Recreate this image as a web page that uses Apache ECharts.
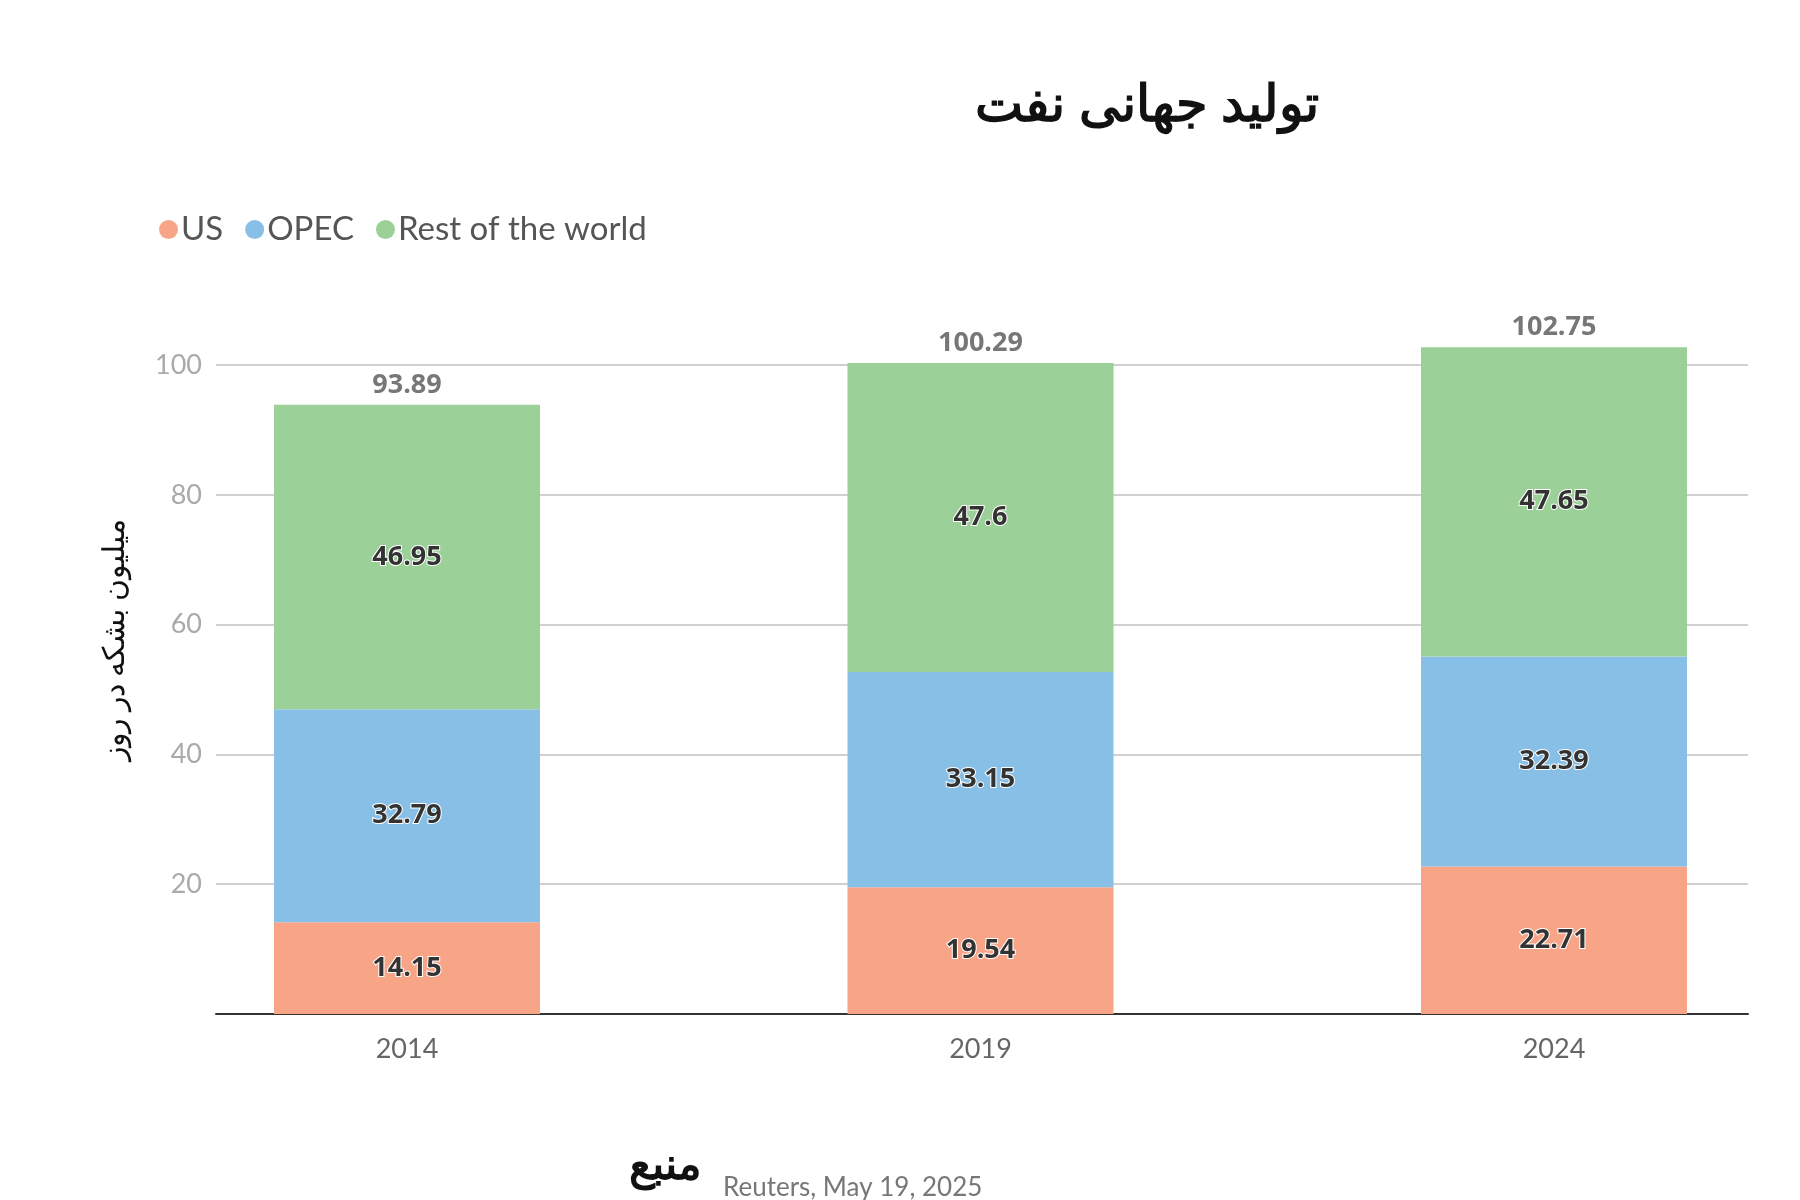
<!DOCTYPE html>
<html><head><meta charset="utf-8">
<script src="https://cdn.jsdelivr.net/npm/echarts@6/dist/echarts.min.js"></script>
<style>html,body{margin:0;background:#fff}#c{width:1800px;height:1200px}</style>
</head><body><div id="c"></div>
<script>
const years = ['2014','2019','2024'];
const us = [14.15, 19.54, 22.71];
const opec = [32.79, 33.15, 32.39];
const rest = [46.95, 47.6, 47.65];
const totals = [93.89, 100.29, 102.75];

const chart = echarts.init(document.getElementById('c'));
const segLabel = {show:true, color:'#333', fontSize:27, fontWeight:'bold', fontFamily:'Open Sans',
  textBorderColor:'#fff', textBorderWidth:2};
function seg(name, data, color){
  return {name, type:'bar', stack:'t', data, barWidth:266, clip:false, xAxisIndex:1, yAxisIndex:1,
    itemStyle:{color}, label:segLabel, emphasis:{disabled:true}};
}
chart.setOption({
  animation:false,
  title:{text:'تولید جهانی نفت', left:1142, top:76, textAlign:'center',
    textStyle:{fontSize:51, fontWeight:'bold', color:'#111', fontFamily:'Noto Sans'}},
  legend:{data:['US','OPEC','Rest of the world'], left:154, top:208, icon:'circle',
    itemWidth:19, itemHeight:19, itemGap:22,
    textStyle:{fontSize:33, color:'#555', fontFamily:'Lato', padding:[0,0,0,-2]}},
  grid:[{left:216, right:52, top:365, bottom:186},
        {left:407, right:246, top:365, bottom:186}],
  xAxis:[
    {gridIndex:0, type:'category', data:[''], axisLine:{lineStyle:{color:'#333', width:2}},
      axisTick:{show:false}, axisLabel:{show:false}},
    {gridIndex:1, type:'category', data:years, boundaryGap:false,
      axisLine:{show:false}, axisTick:{show:false}, splitLine:{show:false},
      axisLabel:{fontSize:27, color:'#666', margin:22, fontFamily:'Lato'}}
  ],
  yAxis:[
    {gridIndex:0, type:'value', min:0, max:100, interval:20,
      axisLabel:{fontSize:27, color:'#aaa', margin:14, fontFamily:'Lato',
        formatter:v=>v===0?'':String(v)},
      splitLine:{lineStyle:{color:'#d0d0d0', width:2}}},
    {gridIndex:1, type:'value', min:0, max:100, interval:20,
      axisLabel:{show:false}, splitLine:{show:false}, axisLine:{show:false}}
  ],
  series:[
    seg('US', us, '#f7a487'),
    seg('OPEC', opec, '#88bfe6'),
    seg('Rest of the world', rest, '#9bd098'),
    {name:'total', type:'bar', stack:'t', data:[0,0,0], barWidth:266, clip:false, xAxisIndex:1, yAxisIndex:1,
      label:{show:true, position:'top', distance:6, color:'#777', fontSize:27, fontWeight:'bold', fontFamily:'Open Sans',
        formatter:p=>totals[p.dataIndex].toFixed(2)}}
  ],
  graphic:[
    {type:'text', x:115, y:640, rotation:Math.PI/2,
      style:{text:'میلیون بشکه در روز', fontSize:30, fill:'#111', fontFamily:'Noto Sans', align:'center', verticalAlign:'middle'}},
    {type:'text', x:702, y:1166, style:{text:'منبع', fontSize:44, fontWeight:'bold', fill:'#111', fontFamily:'Noto Sans', align:'right', verticalAlign:'middle'}},
    {type:'text', x:723, y:1188, style:{text:'Reuters, May 19, 2025', fontSize:26, fill:'#777', fontFamily:'Lato', verticalAlign:'middle'}}
  ]
});
</script></body></html>
